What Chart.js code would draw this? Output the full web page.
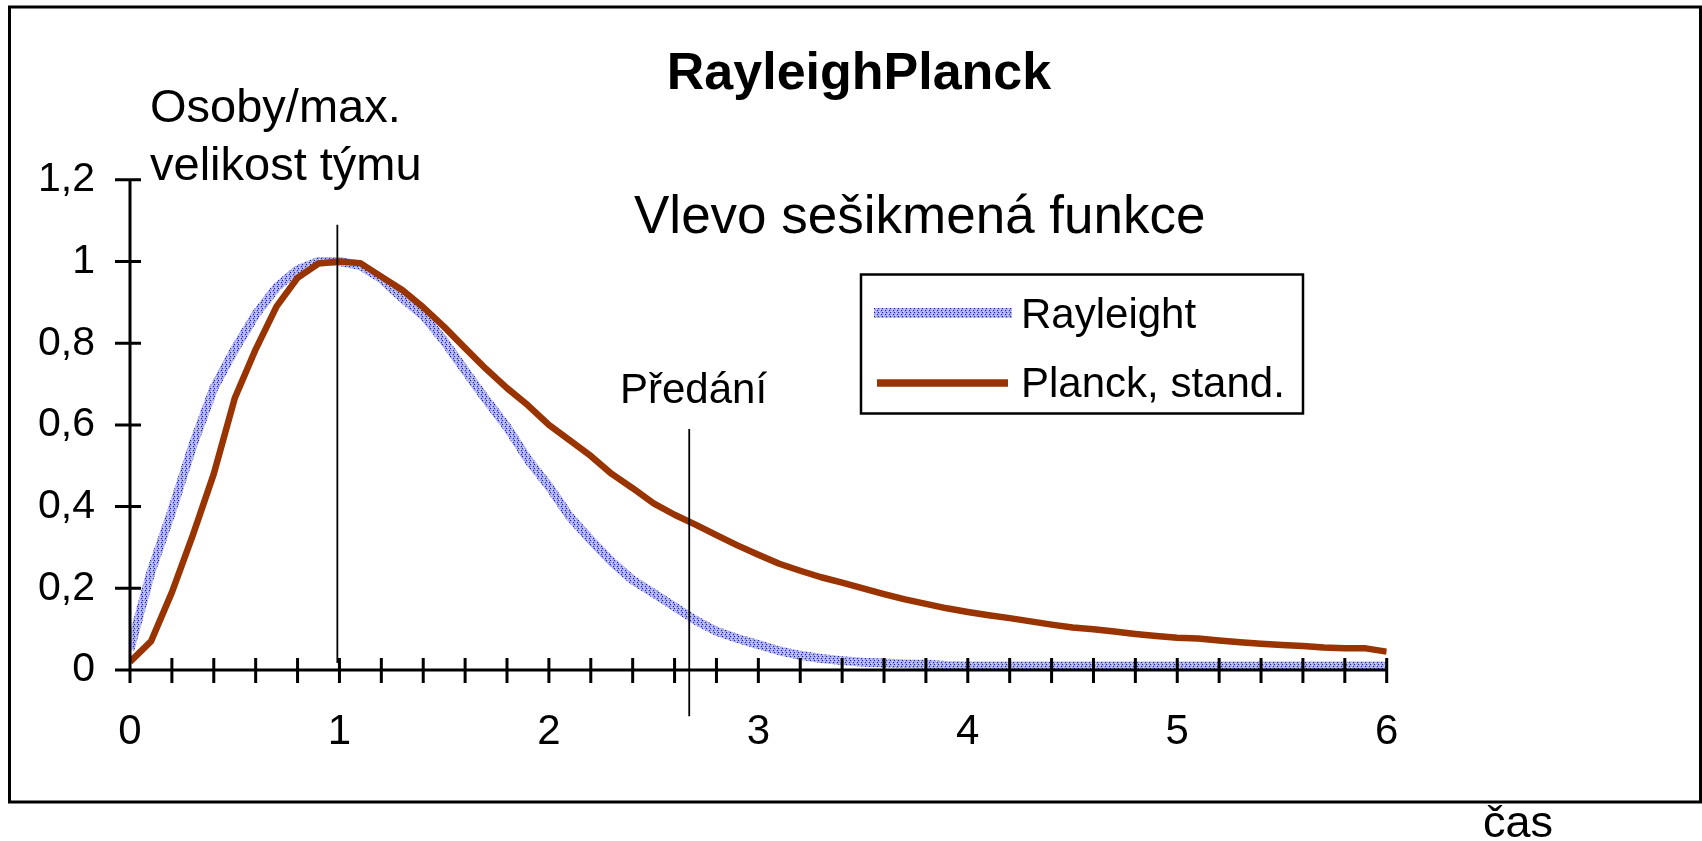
<!DOCTYPE html>
<html>
<head>
<meta charset="utf-8">
<script src="https://cdn.jsdelivr.net/npm/chart.js@4.4.0/dist/chart.umd.min.js"></script>
<style>
  html, body { margin: 0; padding: 0; background: #fff; overflow: hidden; }
  canvas { display: block; }
</style>
</head>
<body>
<canvas id="chart" width="1702" height="841"></canvas>
<script>
// cas (x), every 0.1
const casValues = [
  0.0, 0.1, 0.2, 0.3, 0.4, 0.5, 0.6, 0.7, 0.8, 0.9,
  1.0, 1.1, 1.2, 1.3, 1.4, 1.5, 1.6, 1.7, 1.8, 1.9,
  2.0, 2.1, 2.2, 2.3, 2.4, 2.5, 2.6, 2.7, 2.8, 2.9,
  3.0, 3.1, 3.2, 3.3, 3.4, 3.5, 3.6, 3.7, 3.8, 3.9,
  4.0, 4.1, 4.2, 4.3, 4.4, 4.5, 4.6, 4.7, 4.8, 4.9,
  5.0, 5.1, 5.2, 5.3, 5.4, 5.5, 5.6, 5.7, 5.8, 5.9,
  6.0
];

const rayleighValues = [
  0.05, 0.24, 0.39, 0.55, 0.69, 0.785, 0.87, 0.937, 0.98, 1.0,
  1.0, 0.99, 0.958, 0.91, 0.868, 0.805, 0.733, 0.662, 0.595, 0.515,
  0.45, 0.375, 0.318, 0.265, 0.22, 0.188, 0.155, 0.122, 0.095, 0.077,
  0.062, 0.047, 0.036, 0.028, 0.023, 0.019, 0.017, 0.015, 0.014, 0.011,
  0.01, 0.01, 0.01, 0.01, 0.01, 0.01, 0.01, 0.01, 0.01, 0.01,
  0.01, 0.01, 0.01, 0.01, 0.01, 0.01, 0.01, 0.01, 0.01, 0.01,
  0.01
];

const planckValues = [
  0.02, 0.07, 0.19, 0.33, 0.48, 0.665, 0.785, 0.89, 0.96, 0.995,
  1.0, 0.996, 0.963, 0.93, 0.888, 0.84, 0.788, 0.737, 0.69, 0.648,
  0.60, 0.562, 0.524, 0.48, 0.445, 0.408, 0.38, 0.356, 0.33, 0.305,
  0.282, 0.26, 0.243, 0.227, 0.214, 0.2, 0.186, 0.173, 0.162, 0.151,
  0.142, 0.134, 0.127, 0.119, 0.111, 0.104, 0.1, 0.094, 0.088, 0.083,
  0.079, 0.077, 0.072, 0.068, 0.064, 0.061, 0.059, 0.055, 0.053, 0.053,
  0.045
];

// vertical marker lines (peak and "Předání")
const peakLineX = [0.99, 0.99];
const peakLineY = [0.017, 1.09];
const handoverLineX = [2.67, 2.67];
const handoverLineY = [-0.113, 0.59];

const xLabelValues = [0, 1, 2, 3, 4, 5, 6];
const xTickLabels = ['0', '1', '2', '3', '4', '5', '6'];
const yLabelValues = [0, 0.2, 0.4, 0.6, 0.8, 1, 1.2];
const yTickLabels = ['0', '0,2', '0,4', '0,6', '0,8', '1', '1,2'];

const seriesNames = ['Rayleight', 'Planck, stand.'];

const FONT = "'Liberation Sans', Arial, sans-serif";

function makeDotPattern() {
    const c = document.createElement('canvas');
    c.width = 4; c.height = 4;
    const g = c.getContext('2d');
    const L = 'rgb(165,170,232)', D = 'rgb(35,35,150)', W = 'rgb(222,224,248)';
    const cells = [
        [L, L, D, L],
        [W, L, L, L],
        [L, D, L, L],
        [L, L, L, W]
    ];
    cells.forEach((row, j) => row.forEach((col, i) => {
        g.fillStyle = col;
        g.fillRect(i, j, 1, 1);
    }));
    return g.createPattern(c, 'repeat');
}

function toPoints(xs, ys) {
    return xs.map((x, i) => ({ x: x, y: ys[i] }));
}

function findLabel(values, labels, v) {
    const r = Math.round(v * 10) / 10;
    const i = values.findIndex(u => Math.abs(u - r) < 1e-6);
    return i >= 0 ? labels[i] : '';
}

const excelAxes = {
    id: 'excelAxes',
    afterDatasetsDraw(chart) {
        const { ctx, scales: { x, y } } = chart;
        const x0 = x.getPixelForValue(0);
        const y0 = y.getPixelForValue(0);
        ctx.save();
        ctx.strokeStyle = '#000';
        ctx.lineWidth = 3;
        ctx.beginPath();
        ctx.moveTo(x0, y.getPixelForValue(1.2) - 1.5);
        ctx.lineTo(x0, y0 + 1.5);
        ctx.moveTo(x0 - 1.5, y0);
        ctx.lineTo(x.getPixelForValue(6) + 1.5, y0);
        x.ticks.forEach(t => {
            const px = x.getPixelForValue(t.value);
            ctx.moveTo(px, y0 - 12);
            ctx.lineTo(px, y0 + 13);
        });
        y.ticks.forEach(t => {
            const py = y.getPixelForValue(t.value);
            ctx.moveTo(x0 - 15, py);
            ctx.lineTo(x0 + 11, py);
        });
        ctx.stroke();
        ctx.restore();
    }
};

const decorations = {
    id: 'decorations',
    afterDraw(chart) {
        const ctx = chart.ctx;
        ctx.save();
        ctx.fillStyle = '#000';
        ctx.strokeStyle = '#000';
        ctx.textBaseline = 'alphabetic';

        // outer frame
        ctx.lineWidth = 3;
        ctx.strokeRect(9.5, 7, 1691, 795);

        ctx.textAlign = 'center';
        ctx.font = `bold 52px ${FONT}`;
        ctx.fillText('RayleighPlanck', 859, 89);

        ctx.textAlign = 'left';
        ctx.font = `47px ${FONT}`;
        ctx.fillText('Osoby/max.', 150, 122);
        ctx.fillText('velikost týmu', 150, 180);

        ctx.font = `53px ${FONT}`;
        ctx.fillText('Vlevo sešikmená funkce', 634, 233);

        ctx.font = `42px ${FONT}`;
        ctx.fillText('Předání', 620, 403);

        ctx.font = `45px ${FONT}`;
        ctx.fillText('čas', 1483, 837);

        // legend
        ctx.lineWidth = 2.5;
        ctx.strokeRect(861, 274.5, 442, 139);
        const rows = [
            { y: 313, x1: 874, x2: 1012, base: 328 },
            { y: 383, x1: 877, x2: 1008, base: 397 }
        ];
        ctx.font = `42px ${FONT}`;
        rows.forEach((r, i) => {
            const ds = chart.data.datasets[i];
            ctx.strokeStyle = ds.borderColor;
            ctx.lineWidth = ds.borderWidth + 1;
            ctx.beginPath();
            ctx.moveTo(r.x1, r.y);
            ctx.lineTo(r.x2, r.y);
            ctx.stroke();
            ctx.fillText(seriesNames[i], 1021, r.base);
        });
        ctx.restore();
    }
};

const dotPattern = makeDotPattern();

new Chart(document.getElementById('chart'), {
    type: 'line',
    data: {
        datasets: [
            {
                label: seriesNames[0],
                data: toPoints(casValues, rayleighValues),
                borderColor: dotPattern,
                borderWidth: 9,
                pointRadius: 0,
                borderJoinStyle: 'round',
                order: 1
            },
            {
                label: seriesNames[1],
                data: toPoints(casValues, planckValues),
                borderColor: '#993300',
                borderWidth: 6.5,
                pointRadius: 0,
                borderJoinStyle: 'round',
                order: 0
            },
            {
                label: 'peak',
                data: toPoints(peakLineX, peakLineY),
                borderColor: '#000',
                borderWidth: 1.8,
                pointRadius: 0,
                clip: false,
                order: -1
            },
            {
                label: 'handover',
                data: toPoints(handoverLineX, handoverLineY),
                borderColor: '#000',
                borderWidth: 1.8,
                pointRadius: 0,
                clip: false,
                order: -1
            }
        ]
    },
    options: {
        responsive: false,
        animation: false,
        layout: { padding: { top: 179.8, right: 315.3, left: 0, bottom: 0 } },
        plugins: {
            legend: { display: false },
            tooltip: { enabled: false }
        },
        scales: {
            x: {
                type: 'linear',
                min: 0,
                max: 6,
                ticks: {
                    stepSize: 0.2,
                    autoSkip: false,
                    maxRotation: 0,
                    padding: 24,
                    color: '#000',
                    font: { family: FONT, size: 42 },
                    callback: v => findLabel(xLabelValues, xTickLabels, v)
                },
                grid: { display: false, drawTicks: true, tickLength: 13 },
                border: { display: false },
                afterFit: s => { s.height = 171; }
            },
            y: {
                min: 0,
                max: 1.2,
                ticks: {
                    stepSize: 0.2,
                    padding: 20,
                    color: '#000',
                    font: { family: FONT, size: 41 },
                    callback: v => findLabel(yLabelValues, yTickLabels, v)
                },
                grid: { display: false, drawTicks: true, tickLength: 15 },
                border: { display: false },
                afterFit: s => { s.width = 130; }
            }
        }
    },
    plugins: [excelAxes, decorations]
});
</script>
</body>
</html>
